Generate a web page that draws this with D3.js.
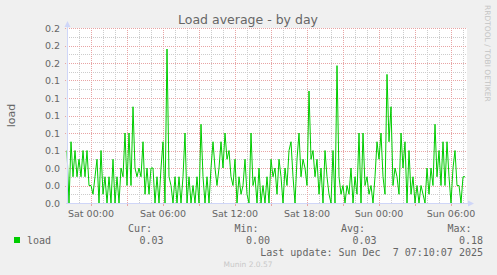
<!DOCTYPE html>
<html>
<head>
<meta charset="utf-8">
<script src="https://cdn.jsdelivr.net/npm/d3@7"></script>
<style>
  body { margin: 0; background: #f0f0f0; }
  svg { display: block; }
</style>
</head>
<body>
<svg width="497" height="275"></svg>
<script>
// 10 minute samples, Fri 22:00 -> Sun 07:10
var loadValues = [
    0.06,0.00,0.07,0.03,0.06,0.03,0.05,0.03,0.06,0.03,
    0.06,0.02,0.02,0.01,0.03,0.05,0.00,0.06,0.01,0.03,
    0.00,0.03,0.00,0.05,0.00,0.03,0.00,0.04,0.03,0.08,
    0.02,0.08,0.02,0.11,0.04,0.03,0.04,0.03,0.07,0.01,
    0.04,0.01,0.04,
    0.04,0.00,0.03,0.00,0.04,0.07,0.00,0.176,0.03,0.02,
    0.00,0.03,0.00,0.03,0.00,0.03,0.08,0.00,0.03,0.00,
    0.02,0.00,0.03,0.00,0.09,0.03,0.00,0.03,0.00,0.04,
    0.07,0.04,0.02,0.04,0.07,0.04,0.08,0.05,0.06,0.03,
    0.02,0.05,
    0.00,0.03,0.01,0.02,0.05,0.01,0.00,0.08,0.02,0.03,
    0.00,0.04,0.00,0.02,0.00,0.03,0.00,0.05,0.03,0.04,
    0.01,0.05,0.03,0.00,0.04,0.02,0.06,0.07,0.03,0.00,
    0.05,0.08,0.03,0.05,0.04,0.02,0.128,0.05,0.06,0.03,
    0.05,
    0.01,0.04,0.00,0.06,0.03,0.01,0.00,0.06,0.00,0.157,
    0.03,0.01,0.02,0.00,0.02,0.01,0.04,0.00,0.03,0.01,
    0.08,0.00,0.08,0.02,0.03,0.01,0.02,0.00,0.03,0.07,
    0.05,0.08,0.03,0.01,0.147,0.07,0.11,0.02,0.04,0.03,
    0.01,
    0.08,0.04,0.07,0.00,0.06,0.01,0.03,0.00,0.02,0.00,
    0.02,0.01,0.00,0.04,0.01,0.04,0.02,0.09,0.03,0.06,
    0.02,0.07,0.02,0.07,0.03,0.00,0.04,0.06,0.02,0.02,
    0.00,0.03,0.03
];
var stepMinutes = 10;
var startTime = new Date(2025, 11, 5, 22, 0);
var endTime = new Date(2025, 11, 7, 7, 20);

var yTicks = [0, 0.02, 0.04, 0.06, 0.08, 0.10, 0.12, 0.14, 0.16, 0.18, 0.20];
var yMinorTicks = [0.01, 0.03, 0.05, 0.07, 0.09, 0.11, 0.13, 0.15, 0.17, 0.19];

var legendHeads = ['Cur:', 'Min:', 'Avg:', 'Max:'];
var legendValues = ['0.03', '0.00', '0.03', '0.18'];
var seriesName = 'load';
var lastUpdate = 'Last update: Sun Dec  7 07:10:07 2025';

var svg = d3.select('svg');
var plotLeft = 67, plotRight = 467, plotTop = 28, plotBottom = 203;
var axisColor = '#cfd6f8';
var fontColor = '#666';
var majorGrid = '#e8a4a4';
var minorGrid = '#cccccc';

var x = d3.scaleTime().domain([startTime, endTime]).range([plotLeft, plotRight]);
var y = d3.scaleLinear().domain([0, 0.2]).range([plotBottom, plotTop]);

function crisp(v) { return Math.round(v) + 0.5; }

var data = loadValues.map(function (v, i) {
    return { t: new Date(startTime.getTime() + i * stepMinutes * 60000), v: v };
});

// canvas
svg.append('rect')
    .attr('x', plotLeft).attr('y', plotTop)
    .attr('width', plotRight - plotLeft).attr('height', plotBottom - plotTop)
    .style('fill', '#fff');

var hours = x.ticks(d3.timeHour.every(1));
var labelHours = x.ticks(d3.timeHour.every(6));
var isMajor = function (d) { return d.getHours() % 3 === 0; };
var minorHours = hours.filter(function (d) { return !isMajor(d); });
var majorHours = hours.filter(isMajor);

var grid = svg.append('g').attr('class', 'grid')
    .style('shape-rendering', 'crispEdges')
    .style('stroke-dasharray', '1,1');

grid.selectAll('line.hminor').data(yMinorTicks).enter().append('line')
    .attr('x1', plotLeft).attr('x2', plotRight)
    .attr('y1', function (d) { return crisp(y(d)); })
    .attr('y2', function (d) { return crisp(y(d)); })
    .style('stroke', minorGrid);

grid.selectAll('line.vminor').data(minorHours).enter().append('line')
    .attr('y1', plotTop).attr('y2', plotBottom)
    .attr('x1', function (d) { return crisp(x(d)); })
    .attr('x2', function (d) { return crisp(x(d)); })
    .style('stroke', minorGrid);

grid.selectAll('line.hmajor').data(yTicks.slice(1)).enter().append('line')
    .attr('x1', plotLeft - 2).attr('x2', plotRight)
    .attr('y1', function (d) { return crisp(y(d)); })
    .attr('y2', function (d) { return crisp(y(d)); })
    .style('stroke', majorGrid);

grid.selectAll('line.vmajor').data(majorHours).enter().append('line')
    .attr('y1', plotTop).attr('y2', plotBottom)
    .attr('x1', function (d) { return crisp(x(d)); })
    .attr('x2', function (d) { return crisp(x(d)); })
    .style('stroke', majorGrid);

// series
var line = d3.line()
    .x(function (d) { return x(d.t); })
    .y(function (d) { return y(d.v); });

svg.append('path')
    .datum(data)
    .attr('d', line)
    .style('fill', 'none')
    .style('stroke', '#00cc00')
    .style('stroke-width', 1);

// axes + arrows
svg.append('line')
    .attr('x1', plotLeft + 0.5).attr('x2', plotLeft + 0.5)
    .attr('y1', plotBottom + 1).attr('y2', plotTop - 3)
    .style('stroke', axisColor);
svg.append('line')
    .attr('x1', plotLeft - 1).attr('x2', plotRight + 2)
    .attr('y1', plotBottom + 0.5).attr('y2', plotBottom + 0.5)
    .style('stroke', axisColor);
svg.append('path')
    .attr('d', 'M' + (plotLeft - 2.5) + ',' + (plotTop - 1) + 'L' + (plotLeft + 0.5) + ',' + (plotTop - 7) + 'L' + (plotLeft + 3.5) + ',' + (plotTop - 1) + 'Z')
    .style('fill', axisColor);
svg.append('path')
    .attr('d', 'M' + (plotRight + 1) + ',' + (plotBottom - 2.5) + 'L' + (plotRight + 7) + ',' + (plotBottom + 0.5) + 'L' + (plotRight + 1) + ',' + (plotBottom + 3.5) + 'Z')
    .style('fill', axisColor);

// small red ticks under the x axis at the major lines
svg.selectAll('line.xtick').data(majorHours).enter().append('line')
    .attr('y1', plotBottom + 1).attr('y2', plotBottom + 3)
    .attr('x1', function (d) { return crisp(x(d)); })
    .attr('x2', function (d) { return crisp(x(d)); })
    .style('stroke', majorGrid)
    .style('shape-rendering', 'crispEdges');

// tick labels
var fmtY = d3.format('.1f');
svg.selectAll('text.ylab').data(yTicks).enter().append('text')
    .attr('x', 60).attr('y', function (d) { return y(d) + 3.5; })
    .attr('text-anchor', 'end')
    .style('font', '9.5px "DejaVu Sans"').style('fill', fontColor)
    .text(function (d) { return fmtY(d); });

var fmtX = d3.timeFormat('%a %H:%M');
svg.selectAll('text.xlab').data(labelHours).enter().append('text')
    .attr('x', function (d) { return x(d); }).attr('y', 217)
    .attr('text-anchor', 'middle')
    .style('font', '9.5px "DejaVu Sans"').style('fill', fontColor)
    .text(function (d) { return fmtX(d); });

// titles
svg.append('text')
    .attr('x', 248).attr('y', 24)
    .attr('text-anchor', 'middle')
    .style('font', '12.5px "DejaVu Sans"').style('fill', fontColor)
    .text('Load average - by day');

svg.append('text')
    .attr('transform', 'translate(15,' + ((plotTop + plotBottom) / 2) + ') rotate(-90)')
    .attr('text-anchor', 'middle')
    .style('font', '11px "DejaVu Sans"').style('fill', fontColor)
    .text('load');

svg.append('text')
    .attr('transform', 'translate(484.5,5) rotate(90)')
    .style('font', '7.5px "DejaVu Sans"').style('fill', '#c4c4c4')
    .text('RRDTOOL / TOBI OETIKER');

// legend
var mono = '10px "DejaVu Sans Mono"';
svg.append('rect')
    .attr('x', 14).attr('y', 237).attr('width', 6).attr('height', 6)
    .style('fill', '#00cc00');
svg.append('text')
    .attr('x', 27).attr('y', 243.5)
    .style('font', mono).style('fill', fontColor)
    .text(seriesName);

var headRight = [152, 258.5, 365, 471.5];
var valueRight = [163.5, 270, 376.5, 483];
svg.selectAll('text.head').data(legendHeads).enter().append('text')
    .attr('x', function (d, i) { return headRight[i]; }).attr('y', 232)
    .attr('text-anchor', 'end')
    .style('font', mono).style('fill', fontColor)
    .text(function (d) { return d; });
svg.selectAll('text.val').data(legendValues).enter().append('text')
    .attr('x', function (d, i) { return valueRight[i]; }).attr('y', 243.5)
    .attr('text-anchor', 'end')
    .style('font', mono).style('fill', fontColor)
    .text(function (d) { return d; });

svg.append('text')
    .attr('x', 483).attr('y', 255.5)
    .attr('text-anchor', 'end')
    .style('font', mono).style('fill', fontColor)
    .style('white-space', 'pre')
    .text(lastUpdate);

svg.append('text')
    .attr('x', 248).attr('y', 267)
    .attr('text-anchor', 'middle')
    .style('font', '7.5px "DejaVu Sans"').style('fill', '#c8c8c8')
    .text('Munin 2.0.57');
</script>
</body>
</html>
